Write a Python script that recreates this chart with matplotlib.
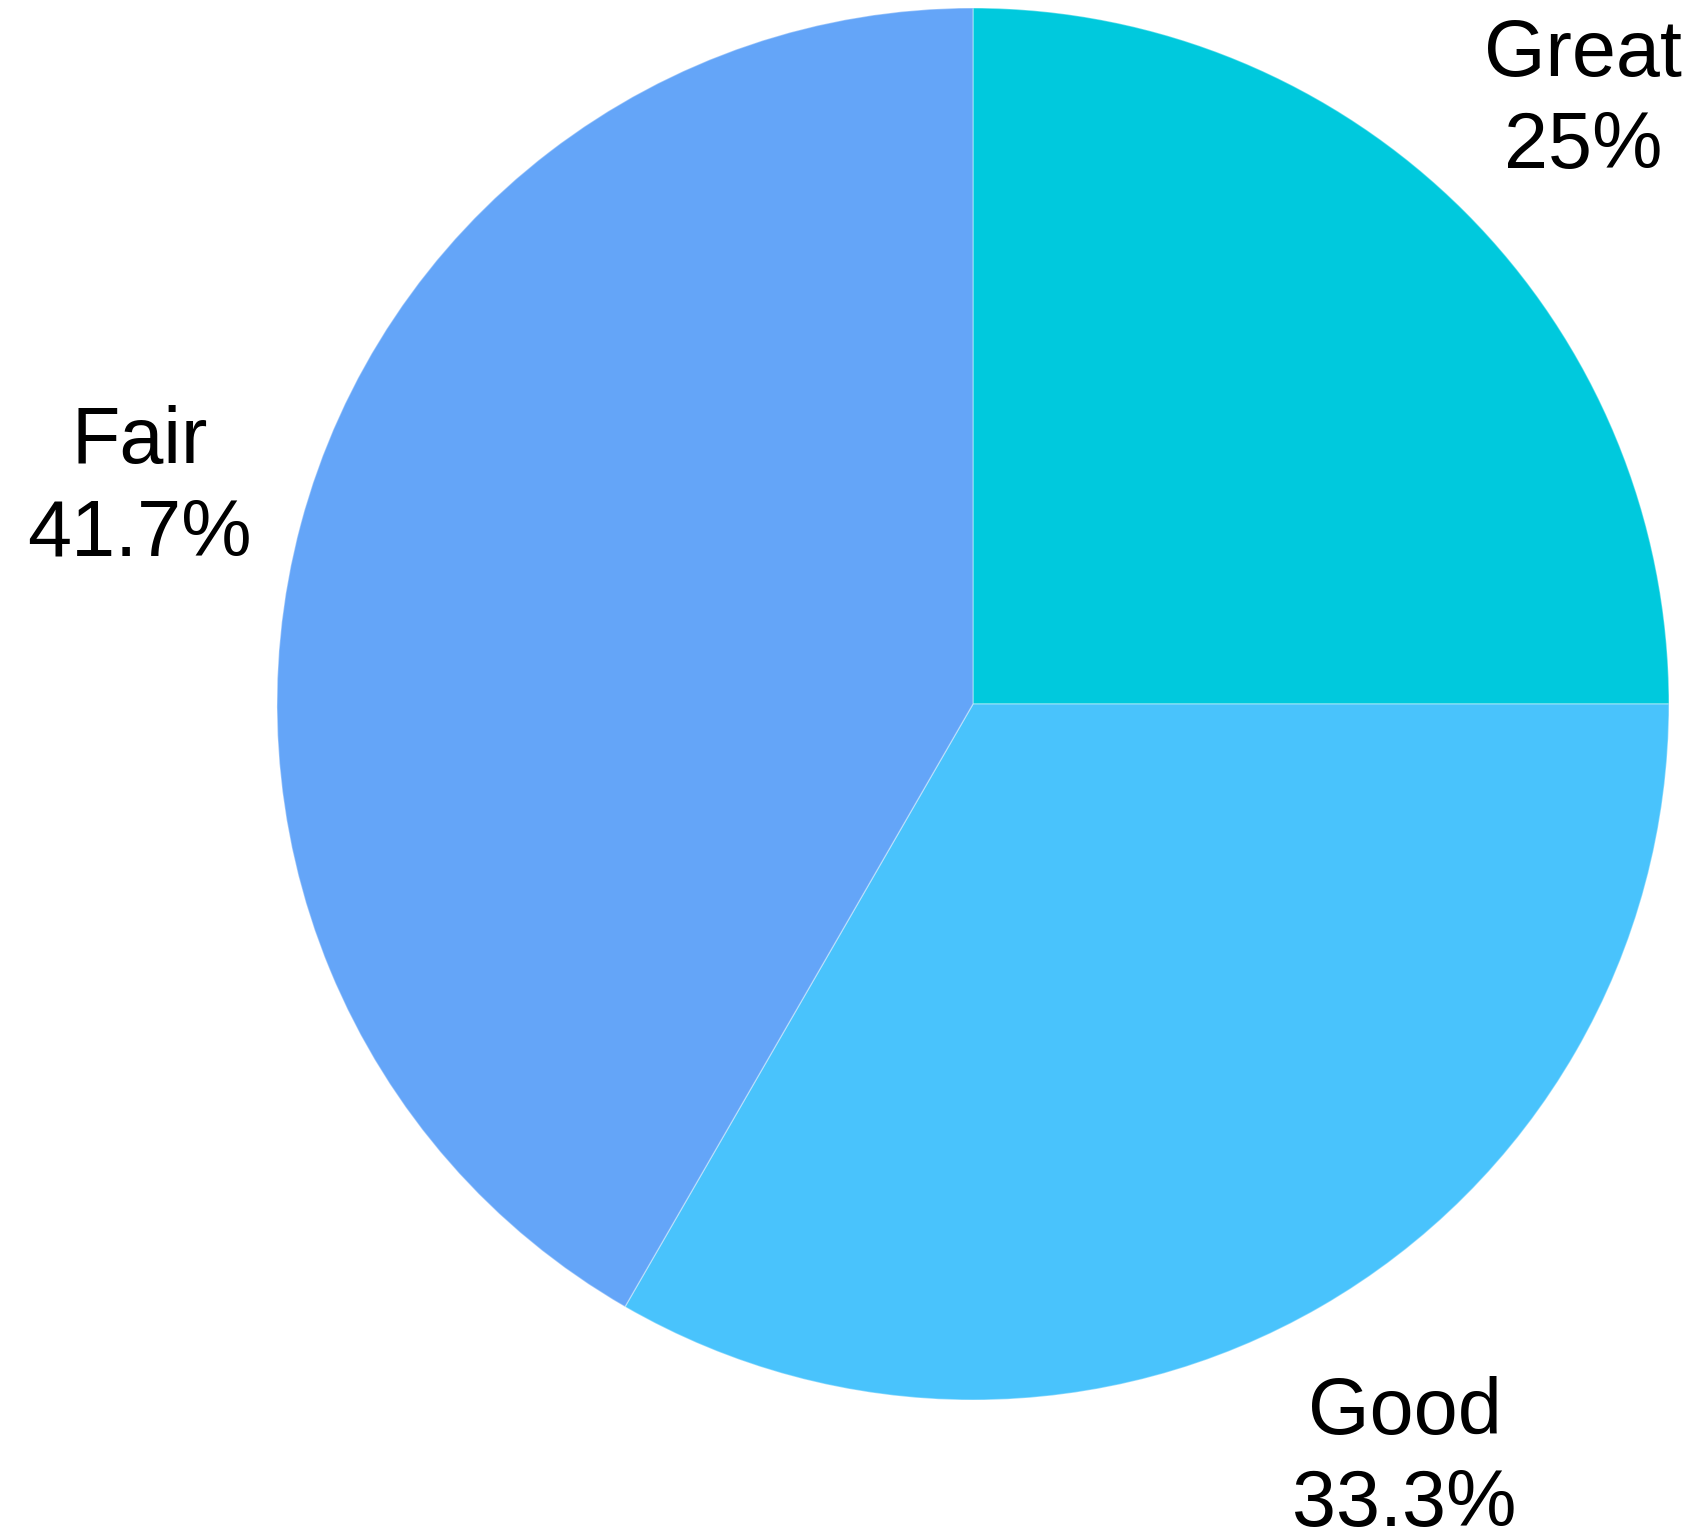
import matplotlib.pyplot as plt

plt.rcParams['font.family'] = ['Liberation Sans', 'DejaVu Sans']

# Survey answers
categorias = ['Great', 'Good', 'Fair']
respuestas = [3, 4, 5]
colores = ['#00C9DD', '#49C3FC', '#64A5F8']

total = sum(respuestas)
etiquetas = []
for nombre, n in zip(categorias, respuestas):
    pct = round(100 * n / total, 1)
    etiquetas.append(f'{nombre}\n{pct:g}%')

W, H = 1699, 1538
fig = plt.figure(figsize=(W / 100, H / 100), dpi=100)
ax = fig.add_axes([0, 0, 1, 1])

wedges, textos = ax.pie(
    respuestas,
    labels=etiquetas,
    colors=colores,
    startangle=90,
    counterclock=False,
    center=(973, H - 704),
    radius=696,
    labeldistance=1.24,
    frame=True,
    wedgeprops={'edgecolor': (1, 1, 1, 0.35), 'linewidth': 1.0},
    textprops={'fontsize': 57, 'color': 'black', 'linespacing': 1.3},
)

# centrar las etiquetas y bajarlas un poco
for t in textos:
    t.set_horizontalalignment('center')
    t.set_verticalalignment('center')
    x, y = t.get_position()
    t.set_position((x, y - 8))

ax.set_xlim(0, W)
ax.set_ylim(0, H)
ax.set_aspect('equal')
ax.axis('off')

plt.savefig('out.png', dpi=100, facecolor='white')
